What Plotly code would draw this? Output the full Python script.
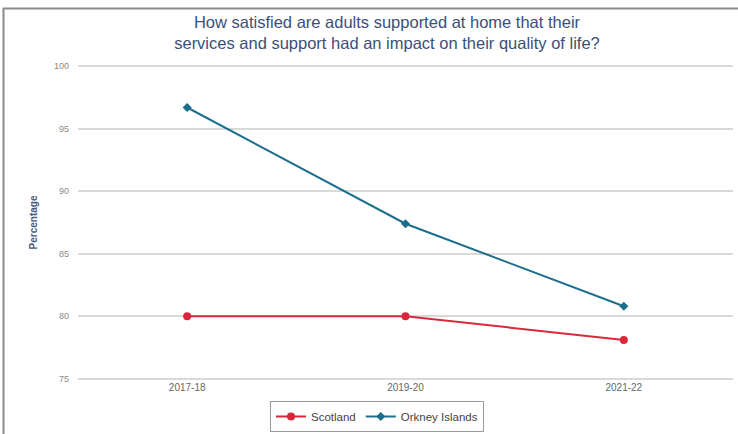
import plotly.graph_objects as go

years = ["2017-18", "2019-20", "2021-22"]
scotland = [80.0, 80.0, 78.1]
orkney = [96.7, 87.4, 80.8]
y_ticks = [75, 80, 85, 90, 95, 100]

W, H = 738, 434
L, R, T, B = 78, 5, 65, 54
pw = W - L - R
ph = H - T - B

fig = go.Figure()
fig.add_trace(go.Scatter(
    x=years, y=scotland, name="Scotland", mode="lines+markers",
    line=dict(color="#d9283c", width=2),
    marker=dict(symbol="circle", size=8, color="#d9283c"),
))
fig.add_trace(go.Scatter(
    x=years, y=orkney, name="Orkney Islands", mode="lines+markers",
    line=dict(color="#1b6f8c", width=2),
    marker=dict(symbol="diamond", size=7, color="#1b6f8c"),
))

def px_x(p):
    return (p - L) / pw

def px_y(p):
    return 1 - (p - T) / ph

# outer frame (top and left visible)
fig.add_shape(type="line", xref="paper", yref="paper",
              x0=px_x(3), x1=px_x(738), y0=px_y(8.5), y1=px_y(8.5),
              line=dict(color="#8a8a8a", width=2))
fig.add_shape(type="line", xref="paper", yref="paper",
              x0=px_x(3.5), x1=px_x(3.5), y0=px_y(8), y1=px_y(434),
              line=dict(color="#8a8a8a", width=2))

fig.update_layout(
    width=W, height=H,
    margin=dict(l=L, r=R, t=T, b=B, autoexpand=False),
    paper_bgcolor="white", plot_bgcolor="white",
    title=dict(
        text="How satisfied are adults supported at home that their<br>services and support had an impact on their quality of life?",
        x=(387) / W, xanchor="center", y=1 - 28 / H, yanchor="middle",
        font=dict(family="Liberation Sans, Arial, sans-serif", size=16.5, color="#3b4f78"),
    ),
    font=dict(family="Liberation Sans, Arial, sans-serif"),
    xaxis=dict(
        type="category", range=[-0.5, 2.5], automargin=False,
        showgrid=False, showline=False, zeroline=False,
        tickfont=dict(size=10, color="#666666"), ticks="",
    ),
    yaxis=dict(
        range=[74.9, 100.1], tickvals=y_ticks, automargin=False,
        showgrid=True, gridcolor="#d9d9d9", gridwidth=1.5,
        zeroline=False, showline=False,
        tickfont=dict(size=9, color="#8a8a8a"), ticks="",
        ticklabelstandoff=8,
        title=dict(text="<b>Percentage</b>", font=dict(size=10, color="#4a5a80"), standoff=14),
    ),
    legend=dict(
        orientation="h", x=px_x(377), xanchor="center", y=px_y(416.5), yanchor="middle",
        bordercolor="#999999", borderwidth=1, bgcolor="white",
        font=dict(size=11.5, color="#444444"),
        itemwidth=30,
    ),
    showlegend=True,
)

fig.write_html(
    "out.html",
    config={"displayModeBar": False},
    post_script="document.body.style.margin='0';document.body.style.padding='0';document.body.style.overflow='hidden';",
)
